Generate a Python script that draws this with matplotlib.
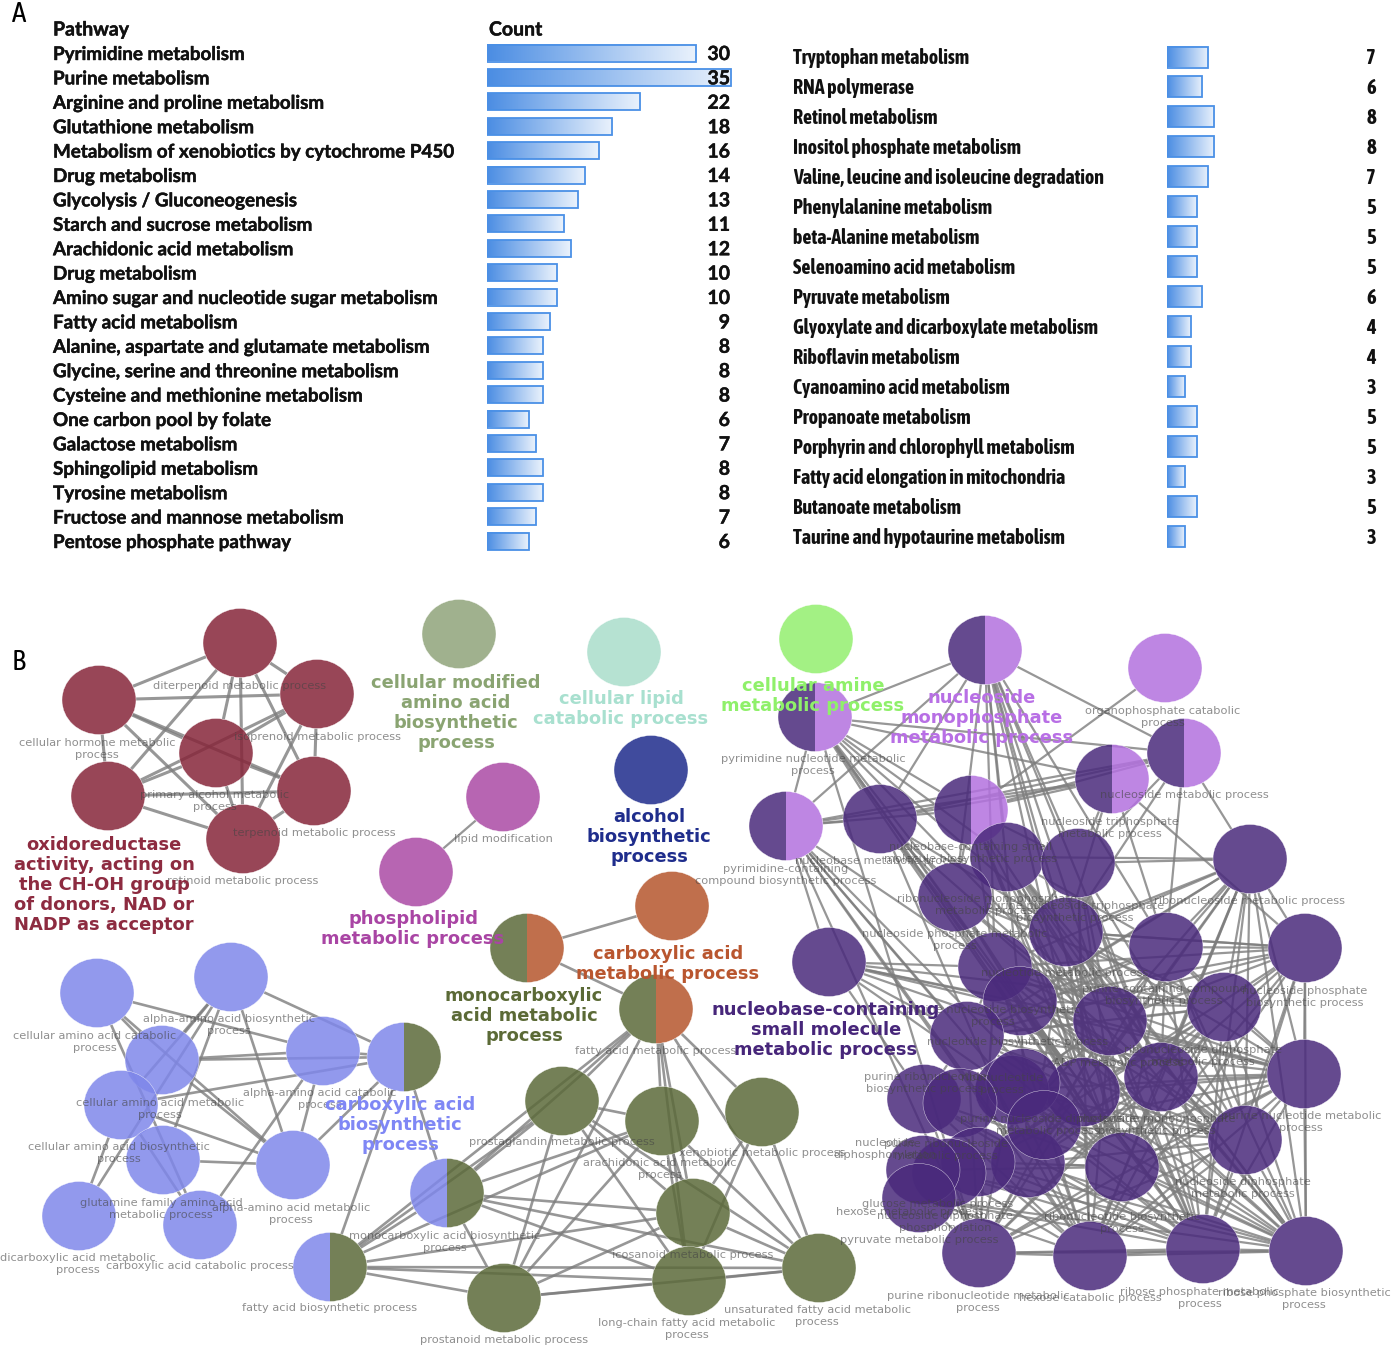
import numpy as np
import matplotlib
matplotlib.use('Agg')
import matplotlib.pyplot as plt
import matplotlib.patheffects as pe
from matplotlib.colors import LinearSegmentedColormap
from matplotlib.patches import Ellipse, Rectangle

FIG_W = 1392
FIG_H = 1347
NODE_W = 74
NODE_H = 69

# panel A
left_pathways = ['Pyrimidine metabolism', 'Purine metabolism', 'Arginine and proline metabolism',
                 'Glutathione metabolism', 'Metabolism of xenobiotics by cytochrome P450', 'Drug metabolism',
                 'Glycolysis / Gluconeogenesis', 'Starch and sucrose metabolism', 'Arachidonic acid metabolism',
                 'Drug metabolism', 'Amino sugar and nucleotide sugar metabolism', 'Fatty acid metabolism',
                 'Alanine, aspartate and glutamate metabolism', 'Glycine, serine and threonine metabolism',
                 'Cysteine and methionine metabolism', 'One carbon pool by folate', 'Galactose metabolism',
                 'Sphingolipid metabolism', 'Tyrosine metabolism', 'Fructose and mannose metabolism',
                 'Pentose phosphate pathway']
left_counts = [30, 35, 22, 18, 16, 14, 13, 11, 12, 10, 10, 9, 8, 8, 8, 6, 7, 8, 8, 7, 6]

right_pathways = ['Tryptophan metabolism', 'RNA polymerase', 'Retinol metabolism', 'Inositol phosphate metabolism',
                  'Valine, leucine and isoleucine degradation', 'Phenylalanine metabolism', 'beta-Alanine metabolism',
                  'Selenoamino acid metabolism', 'Pyruvate metabolism', 'Glyoxylate and dicarboxylate metabolism',
                  'Riboflavin metabolism', 'Cyanoamino acid metabolism', 'Propanoate metabolism',
                  'Porphyrin and chlorophyll metabolism', 'Fatty acid elongation in mitochondria',
                  'Butanoate metabolism', 'Taurine and hypotaurine metabolism']
right_counts = [7, 6, 8, 8, 7, 5, 5, 5, 6, 4, 4, 3, 5, 5, 3, 5, 3]

# panel B, node centres
red_x = [240, 99, 317, 216, 108, 314, 243]
red_y = [643, 700, 694, 753, 796, 791, 839]
red_edges = [(0, 1), (0, 2), (0, 3), (0, 4), (0, 5), (0, 6), (1, 2), (1, 3), (1, 4), (1, 5), (1, 6), (2, 3),
             (2, 4), (2, 5), (2, 6), (3, 4), (3, 5), (3, 6), (4, 5), (4, 6), (5, 6)]

lipid_x = [503, 416]
lipid_y = [797, 872]

# blue nodes first, then the olive and orange ones
acid_x = [97, 231, 162, 323, 404, 121, 163, 293, 447, 79, 200, 330, 672, 527, 656, 562, 662, 762, 693, 689, 819, 504]
acid_y = [993, 977, 1060, 1051, 1057, 1105, 1160, 1165, 1193, 1216, 1225, 1267, 906, 948, 1009, 1101, 1121, 1112,
          1213, 1281, 1268, 1298]
acid_left = ['blue'] * 12 + ['orange', 'olive', 'olive'] + ['olive'] * 7
acid_right = ['blue'] * 4 + ['olive'] + ['blue'] * 3 + ['olive'] + ['blue'] * 2 + ['olive', 'orange', 'orange',
                                                                                   'orange'] + ['olive'] * 7
acid_edges = [(0, 3), (0, 2), (0, 7), (0, 10), (1, 5), (1, 2), (1, 6), (1, 9), (1, 7), (1, 4), (2, 3), (2, 4),
              (2, 7), (3, 4), (3, 10), (3, 7), (4, 5), (4, 7), (4, 8), (4, 11), (5, 7), (5, 6), (5, 10), (6, 7),
              (5, 9), (13, 12), (13, 14), (14, 11), (14, 8), (14, 15), (14, 16), (14, 18), (14, 19), (14, 20),
              (14, 21), (14, 17), (15, 8), (15, 11), (15, 16), (15, 18), (15, 19), (15, 20), (15, 21), (16, 8),
              (16, 11), (16, 18), (16, 19), (16, 20), (16, 21), (17, 18), (17, 19), (17, 20), (18, 8), (18, 11),
              (18, 19), (18, 20), (18, 21), (19, 8), (19, 11), (19, 20), (19, 21), (20, 8), (20, 11), (20, 21),
              (21, 8), (21, 11), (8, 11)]

purple_x = [985, 1165, 815, 1184, 1112, 786, 880, 971, 1007, 1078, 1250, 955, 1066, 1166, 1305, 829, 995, 1020, 967,
            1110, 1224, 1304, 1161, 1083, 1012, 1023, 924, 960, 1245, 1028, 1122, 978, 949, 923, 919, 979, 1090, 1203,
            1306, 1044]
purple_y = [650, 668, 717, 753, 779, 826, 819, 810, 857, 863, 859, 897, 932, 947, 948, 962, 967, 1001, 1036, 1021,
            1007, 1074, 1077, 1092, 1090, 1083, 1099, 1103, 1140, 1163, 1167, 1162, 1173, 1170, 1198, 1253, 1256, 1249,
            1251, 1125]
purple_left = ['dark', 'light', 'dark', 'dark', 'dark', 'dark', 'dark', 'dark'] + ['dark'] * 32
purple_right = ['light', 'light', 'light', 'light', 'light', 'light', 'dark', 'light'] + ['dark'] * 32
purple_links = {
    0: [2, 3, 5, 6, 8, 9, 11, 12, 13, 16, 17, 19, 22, 23, 30],
    1: [7],
    2: [3, 4, 5, 6, 7, 8, 11, 12, 16, 19, 23, 30, 35],
    3: [4, 5, 6, 7, 9, 10, 12, 13],
    4: [5, 6, 7, 9, 12, 13, 14],
    5: [6, 7, 15, 16, 18, 24, 29, 30, 35, 36],
    6: [11, 12, 16, 19, 23, 29, 30],
    7: [8, 9, 11, 16, 19, 23, 30, 37],
    8: [9, 10, 12, 13, 19, 22, 23, 28, 30, 37, 38],
    9: [10, 12, 16, 19, 22, 23, 28, 30, 36, 37],
    10: [12, 13, 14, 16, 19, 20, 21, 22, 23, 28, 30, 37, 38, 29, 36, 17, 18],
    11: [12, 16, 19, 20, 22, 23, 30],
    12: [13, 14, 19, 20, 21, 22, 28, 30, 37, 38, 23, 29],
    13: [14, 19, 20, 21, 22, 23, 28, 30, 37, 38, 17, 18],
    14: [16, 17, 19, 20, 21, 22, 23, 28, 30, 38, 12, 18, 37, 36],
    15: [16, 17, 19, 24, 18, 20, 21, 22, 26],
    16: [17, 18, 19, 20, 21, 22, 23, 28, 30, 35, 36, 37, 38],
    17: [18, 19, 20, 22, 23, 21, 30, 37, 38, 29, 28],
    18: [19, 20, 21, 22, 23, 26, 28, 30, 35, 36, 38],
    19: [20, 21, 22, 23, 24, 25, 28, 29, 30, 31, 35, 36, 37, 38],
    20: [21, 22, 23, 28, 29, 30, 31, 35, 36, 37, 38],
    21: [22, 23, 24, 28, 29, 30, 35, 36, 37, 38],
    22: [23, 28, 29, 30, 31, 35, 36, 37, 38],
    23: [28, 29, 30, 31, 35, 36, 37, 38],
    24: [28, 30, 35, 36, 37, 38],
    26: [29, 30, 35, 36, 37],
    28: [29, 30, 35, 36, 37, 38],
    29: [30, 31, 35, 36, 37, 38],
    30: [31, 33, 35, 36, 37, 38],
    31: [36, 37, 38],
    32: [35, 36, 37, 38],
    34: [35, 36, 37, 38],
    35: [36, 37, 38],
    36: [37, 38],
    37: [38],
    39: [28, 30, 36, 37, 38, 21],
}

single_names = ['sage', 'mint', 'green', 'navy']
single_x = [459, 624, 816, 651]
single_y = [634, 652, 639, 770]

small_labels = ['diterpenoid metabolic process', 'cellular hormone metabolic\nprocess', 'isoprenoid metabolic process',
                'primary alcohol metabolic\nprocess', 'terpenoid metabolic process', 'retinoid metabolic process',
                'lipid modification', 'organophosphate catabolic\nprocess', 'pyrimidine nucleotide metabolic\nprocess',
                'nucleoside metabolic process', 'nucleoside triphosphate\nmetabolic process',
                'nucleobase metabolic process', 'nucleobase-containing small\nmolecule biosynthetic process',
                'pyrimidine-containing\ncompound biosynthetic process', 'ribonucleoside monophosphate\nmetabolic process',
                'purine nucleoside triphosphate\nbiosynthetic process', 'ribonucleoside metabolic process',
                'nucleoside phosphate metabolic\nprocess', 'nucleotide metabolic process',
                'purine-containing compound\nbiosynthetic process', 'nucleoside phosphate\nbiosynthetic process',
                'purine nucleotide biosynthetic\nprocess', 'nucleotide biosynthetic process',
                'ribonucleoside diphosphate\nmetabolic process', 'ADP metabolic process',
                'purine ribonucleotide\nbiosynthetic process', 'ribonucleotide\nprocess',
                'nucleoside monophosphate\nbiosynthetic process', 'purine nucleotide metabolic\nprocess',
                'nucleotide\ndiphosphorylation', 'purine nucleoside diphosphate\nmetabolic process',
                'purine ribonucleoside\nmetabolic process', 'glucose metabolic process',
                'ribonucleotide biosynthetic\nprocess', 'hexose metabolic process',
                'nucleoside diphosphate\nphosphorylation', 'pyruvate metabolic process',
                'nucleoside diphosphate\nmetabolic process', 'purine ribonucleotide metabolic\nprocess',
                'hexose catabolic process', 'ribose phosphate metabolic\nprocess',
                'ribose phosphate biosynthetic\nprocess', 'cellular amino acid catabolic\nprocess',
                'alpha-amino acid biosynthetic\nprocess', 'cellular amino acid metabolic\nprocess',
                'alpha-amino acid catabolic\nprocess', 'cellular amino acid biosynthetic\nprocess',
                'alpha-amino acid metabolic\nprocess', 'glutamine family amino acid\nmetabolic process',
                'dicarboxylic acid metabolic\nprocess', 'carboxylic acid catabolic process',
                'fatty acid biosynthetic process', 'monocarboxylic acid biosynthetic\nprocess',
                'prostaglandin metabolic process', 'arachidonic acid metabolic\nprocess',
                'xenobiotic metabolic process', 'icosanoid metabolic process', 'fatty acid metabolic process',
                'long-chain fatty acid metabolic\nprocess', 'unsaturated fatty acid metabolic\nprocess',
                'prostanoid metabolic process']
small_x = [240, 97, 317, 215, 314, 243, 503, 1163, 813, 1184, 1110, 881, 971, 786, 987, 1075, 1250, 955, 1065, 1164,
           1305, 993, 1018, 1203, 1118, 925, 1002, 1157, 1301, 885, 1048, 946, 938, 1122, 910, 945, 919, 1243, 978,
           1090, 1200, 1304, 95, 229, 160, 320, 119, 291, 161, 78, 200, 330, 445, 562, 660, 762, 693, 656, 687, 817,
           504]
small_y = [686, 749, 737, 801, 833, 881, 839, 717, 765, 795, 828, 861, 853, 875, 905, 912, 901, 940, 973, 995, 997,
           1016, 1042, 1056, 1063, 1083, 1084, 1125, 1122, 1149, 1125, 1150, 1204, 1223, 1212, 1222, 1240, 1188, 1302,
           1298, 1298, 1299, 1042, 1025, 1109, 1099, 1153, 1214, 1209, 1264, 1266, 1308, 1242, 1142, 1169, 1153, 1255,
           1051, 1329, 1316, 1340]

titles = ['oxidoreductase\nactivity, acting on\nthe CH-OH group\nof donors, NAD or\nNADP as acceptor',
          'cellular modified\namino acid\nbiosynthetic\nprocess', 'cellular lipid\ncatabolic process',
          'cellular amine\nmetabolic process', 'nucleoside\nmonophosphate\nmetabolic process',
          'alcohol\nbiosynthetic\nprocess', 'phospholipid\nmetabolic process', 'carboxylic acid\nmetabolic process',
          'monocarboxylic\nacid metabolic\nprocess', 'nucleobase-containing\nsmall molecule\nmetabolic process',
          'carboxylic acid\nbiosynthetic\nprocess']
title_x = [104, 456, 621, 813, 982, 649, 413, 668, 524, 826, 400]
title_y = [885, 713, 709, 696, 718, 837, 929, 964, 1016, 1030, 1125]
title_colors = ['#8d2b40', '#8aa472', '#a8e0cf', '#8ff06a', '#b86fe5', '#1f2d8c', '#a945a4', '#b9562f', '#5b6a36',
                '#47267a', '#7f87f5']

node_colors = {'red': '#86263a', 'magenta': '#ab4aa5', 'blue': '#7f87ea', 'olive': '#5c6a3a', 'orange': '#b5562d',
               'dark': '#4a2a7c', 'light': '#b371df', 'sage': '#90a47a', 'mint': '#a9ddcb', 'green': '#93ef6e',
               'navy': '#1e2b8c'}


def fit_size(fig, ax, text, family, want_px):
    """Font size that makes this text about want_px wide, whichever family was found."""
    probe = ax.text(0, 0, text, fontfamily=family, fontweight='bold', fontsize=10)
    got = probe.get_window_extent(fig.canvas.get_renderer()).width
    probe.remove()
    return 10 * want_px / got


def draw_bars(fig, net, names, counts, top_row, row_step, bar_h, bar_left, px_per_count, name_x, count_x, family, size,
              heavy):
    """Gradient bars on their own axes, with the pathway names and counts next to them."""
    n = len(counts)
    y_top = top_row - row_step / 2
    y_bot = top_row + row_step * (n - 0.5)
    width = px_per_count * 38
    ax = fig.add_axes([bar_left / FIG_W, 1 - y_bot / FIG_H, width / FIG_W, (y_bot - y_top) / FIG_H])
    ax.axis('off')
    ypos = np.arange(n)
    bars = ax.barh(ypos, counts, height=bar_h / row_step, facecolor='none', edgecolor='#4a90e6', linewidth=1.3, zorder=3)
    grad = np.linspace(0, 1, 128).reshape(1, -1)
    cmap = LinearSegmentedColormap.from_list('bar', ['#4b8de3', '#eaf2fc'])
    for bar in bars:
        ax.imshow(grad, cmap=cmap, aspect='auto', zorder=2, interpolation='bilinear',
                  extent=[bar.get_x(), bar.get_x() + bar.get_width(), bar.get_y() + bar.get_height(), bar.get_y()])
    ax.set_xlim(0, 38)
    ax.set_ylim(n - 0.5, -0.5)
    for i in range(n):
        row_y = top_row + i * row_step + 1.5
        net.text(name_x, row_y, names[i], fontfamily=family, fontweight='bold', fontsize=size, va='center', ha='left',
                 color='#111111', path_effects=heavy)
        net.text(count_x, row_y, str(counts[i]), fontfamily=family, fontweight='bold', fontsize=size + 0.5, va='center',
                 ha='right', color='#111111', path_effects=heavy)


def draw_node(ax, x, y, left, right):
    """One node, split in two colours when it belongs to two groups."""
    if left == right:
        ax.add_patch(Ellipse((x, y), NODE_W, NODE_H, facecolor=node_colors[left], edgecolor='white', linewidth=0.3,
                             alpha=0.85, zorder=2))
        return
    for colour, x0 in [(left, x - NODE_W), (right, x)]:
        half = Ellipse((x, y), NODE_W, NODE_H, facecolor=node_colors[colour], edgecolor='white', linewidth=0.3,
                       alpha=0.85, zorder=2)
        ax.add_patch(half)
        half.set_clip_path(Rectangle((x0, y - NODE_H), NODE_W, 2 * NODE_H, transform=ax.transData))


def draw_edges(ax, xs, ys, pairs, lw=1.9):
    """Edges stop at the rim of the two nodes they join."""
    for a, b in pairs:
        dx = xs[b] - xs[a]
        dy = ys[b] - ys[a]
        t = 1 / np.hypot(dx / (NODE_W / 2), dy / (NODE_H / 2))
        if t >= 0.5:
            continue
        ax.plot([xs[a] + t * dx, xs[b] - t * dx], [ys[a] + t * dy, ys[b] - t * dy], color='#7d7d7d', linewidth=lw,
                alpha=0.8, zorder=1, solid_capstyle='butt')


fig = plt.figure(figsize=(FIG_W / 100, FIG_H / 100), dpi=100)
net = fig.add_axes([0, 0, 1, 1])
net.set_xlim(0, FIG_W)
net.set_ylim(FIG_H, 0)
net.axis('off')
net.set_zorder(5)

narrow = ['Asap Condensed', 'Lato']
net.text(12, 15, 'A', fontfamily=narrow, fontsize=21, va='center', ha='left')
net.text(12, 663, 'B', fontfamily=narrow, fontsize=21, va='center', ha='left')

# the reference text on the left is a little heavier than the bold weight here
heavy = [pe.withStroke(linewidth=0.3, foreground='#111111')]
left_size = fit_size(fig, net, left_pathways[4], 'Lato', 402)
right_size = fit_size(fig, net, right_pathways[4], narrow, 308)
net.text(53, 30, 'Pathway', fontfamily='Lato', fontweight='bold', fontsize=left_size + 0.5, va='center', color='#111111',
         path_effects=heavy)
net.text(489, 30, 'Count', fontfamily='Lato', fontweight='bold', fontsize=left_size + 0.5, va='center', color='#111111',
         path_effects=heavy)

draw_bars(fig, net, left_pathways, left_counts, 53, 24.4, 17, 487, 6.97, 53, 730, 'Lato', left_size, heavy)
draw_bars(fig, net, right_pathways, right_counts, 57, 29.94, 21, 1167, 5.9, 793, 1376, narrow, right_size, [])

# edges go under the nodes
draw_edges(net, red_x, red_y, red_edges, lw=2.2)
draw_edges(net, lipid_x, lipid_y, [(0, 1)], lw=1.6)
draw_edges(net, acid_x, acid_y, acid_edges)
purple_edges = [(a, b) for a in purple_links for b in purple_links[a]]
draw_edges(net, purple_x, purple_y, purple_edges, lw=1.6)

for x, y in zip(red_x, red_y):
    draw_node(net, x, y, 'red', 'red')
for x, y in zip(lipid_x, lipid_y):
    draw_node(net, x, y, 'magenta', 'magenta')
for x, y, name in zip(single_x, single_y, single_names):
    draw_node(net, x, y, name, name)
for x, y, c1, c2 in zip(acid_x, acid_y, acid_left, acid_right):
    draw_node(net, x, y, c1, c2)
for x, y, c1, c2 in zip(purple_x, purple_y, purple_left, purple_right):
    draw_node(net, x, y, c1, c2)

for label, x, y in zip(small_labels, small_x, small_y):
    net.text(x, y, label, fontsize=8.2, color='#444444', alpha=0.6, ha='center', va='center', linespacing=1.25, zorder=3)
for label, x, y, colour in zip(titles, title_x, title_y, title_colors):
    net.text(x, y, label, fontsize=12.9, fontweight='bold', color=colour, ha='center', va='center', linespacing=1.15,
             zorder=4)

fig.savefig('out.png', dpi=100)
